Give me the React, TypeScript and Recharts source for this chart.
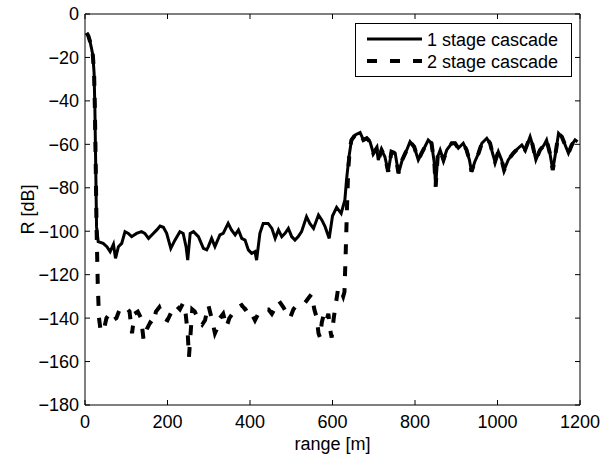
import React from "react";
import { LineChart, Line, XAxis, YAxis, Legend, Label } from "recharts";

// range [m] / R [dB] for the 1 stage cascade
const stage1X = [
  4, 8, 12, 16, 19, 22, 24, 26, 28, 32, 44, 53, 61, 69, 74, 81, 89, 97, 105, 113, 125, 137, 145, 154, 162,
  174, 182, 190, 198, 208, 218, 230, 238, 245, 249, 255, 263, 275, 287, 295, 299, 307, 315, 327, 335, 347,
  355, 364, 372, 380, 388, 396, 404, 412, 416, 424, 432, 444, 453, 461, 469, 477, 485, 493, 501, 509, 517,
  525, 537, 545, 554, 566, 574, 582, 592, 600, 610, 621, 630, 634, 640, 646, 655, 667, 675, 683, 691, 699,
  707, 711, 719, 727, 735, 743, 752, 760, 769, 780, 788, 798, 808, 816, 824, 832, 840, 847, 850, 855, 861,
  869, 877, 889, 897, 905, 917, 925, 932, 937, 945, 954, 962, 974, 982, 988, 994, 1002, 1010, 1016, 1026,
  1038, 1050, 1059, 1067, 1079, 1085, 1093, 1103, 1113, 1119, 1127, 1134, 1142, 1148, 1156, 1164, 1172,
  1180, 1188, 1194,
];
const stage1R = [
  -8.7, -10, -12.5, -16, -19, -27, -44, -70, -98, -104.8, -105.6, -107.1, -109.4, -106.0, -112.5, -107.1,
  -105.6, -100.2, -101.0, -102.5, -101.0, -100.2, -101, -103.3, -101.7, -99.4, -97.6, -98.2, -101, -107.9,
  -104.1, -100.2, -101, -107.1, -113.3, -101, -100.2, -102.5, -107.9, -108.6, -107.1, -103.3, -107.1,
  -101.7, -101.0, -96.4, -99.4, -101.7, -99.4, -103.3, -104.1, -108.6, -110.2, -109.4, -113.3, -101.0,
  -96.4, -96.4, -98.7, -103.3, -99.4, -102.5, -101.0, -98.7, -102.5, -104.1, -102.5, -100.2, -93.3, -96.4,
  -98.7, -92.5, -94.8, -97.9, -103.3, -93, -89.0, -91.8, -85.6, -76.4, -65.7, -58.0, -55.7, -54.6, -58.0,
  -57.2, -58.8, -64.1, -61.8, -67.2, -62.6, -65.7, -72.6, -63.4, -64.1, -73.3, -67.2, -62.6, -58.8, -61.1,
  -67.2, -64.1, -61.1, -58.0, -59.5, -68.8, -79.5, -65.7, -62.6, -67.2, -62.6, -59.5, -59.5, -61.8, -59.5,
  -62.6, -67.2, -72.6, -68.0, -64.1, -59.5, -57.2, -59.5, -64.1, -68.0, -63.4, -67.2, -71.8, -67.2, -64.1,
  -61.8, -60.3, -62.6, -56.5, -60.3, -67.2, -62.6, -60.3, -58.0, -64.1, -71.8, -62.6, -54.9, -56.5, -60.3,
  -64.1, -60.3, -58.0, -58.8,
];

// 2 stage cascade up to where it joins the 1 stage curve (it overlaps it beyond)
const stage2X = [
  4, 8, 12, 16, 19, 22, 24, 26, 28, 31, 34, 38, 45, 52, 60, 68, 76, 84, 92, 100, 108, 114, 120, 128, 136,
  142, 150, 158, 165, 172, 180, 190, 200, 210, 220, 230, 238, 244, 249, 252, 256, 260, 266, 276, 284, 291,
  299, 307, 315, 322, 327, 335, 343, 350, 361, 372, 380, 388, 396, 404, 412, 420, 428, 436, 445, 453, 462,
  470, 481, 490, 497, 505, 513, 521, 533, 541, 549, 556, 562, 566, 570, 574, 578, 584, 590, 594, 598, 603,
  610, 614, 620, 626, 629, 632, 635, 638, 642,
];
const stage2R = [
  -8.7, -10, -12.5, -16, -19, -27, -44, -70, -98, -125, -140, -146, -146, -140, -138, -141, -140, -136,
  -135, -135, -137, -147, -138, -137, -140, -150, -145, -142, -143, -137, -135, -140, -141, -137, -134,
  -136, -133, -138, -147, -158, -147, -136, -137, -141, -143, -141, -134, -140, -147, -144, -140, -138,
  -144, -140, -137, -135, -134, -136, -135, -138, -141, -138, -137, -136, -136, -138, -135, -132, -135,
  -138, -140, -136, -134, -134, -133, -131, -129, -136, -140, -147, -149, -142, -139, -142, -138, -145,
  -149, -140, -131, -126, -127, -130, -128, -110, -90, -72, -62,
];
const joinAt = 646;

const xTicks = [0, 200, 400, 600, 800, 1000, 1200];
const yTicks = [0, -20, -40, -60, -80, -100, -120, -140, -160, -180];
const seriesNames = ["1 stage cascade", "2 stage cascade"];

const stage1Data = stage1X.map((x, i) => ({ x, r: stage1R[i] }));
const stage2Data = stage2X
  .map((x, i) => ({ x, r: stage2R[i] }))
  .concat(stage1Data.filter((d) => d.x >= joinAt));

const FONT = "'Liberation Sans', Arial, Helvetica, sans-serif";
const fmt = (v: number) => String(v).replace("-", "\u2212");

const LegendBox = () => (
  <div
    style={{
      width: 215,
      height: 52,
      border: "1px solid #000",
      background: "#fff",
    }}
  >
    <svg width={215} height={52} style={{ display: "block" }}>
      <line x1={11} x2={66} y1={15} y2={15} stroke="#000" strokeWidth={3} />
      <text x={71} y={21.5} fontSize={18} fontFamily={FONT} fill="#000">
        {seriesNames[0]}
      </text>
      <line x1={11} x2={66} y1={37} y2={37} stroke="#000" strokeWidth={4} strokeDasharray="10 13" />
      <text x={71} y={43.5} fontSize={18} fontFamily={FONT} fill="#000">
        {seriesNames[1]}
      </text>
    </svg>
  </div>
);

export default function App() {
  const tickStyle = { fontSize: 18, fontFamily: FONT, fill: "#000" };
  return (
    <div style={{ position: "absolute", left: 0, top: 0 }}>
      <LineChart
        width={603}
        height={457}
        margin={{ top: 13, right: 22, bottom: 0, left: 0 }}
        style={{ background: "#fff" }}
      >
        <XAxis
          type="number"
          dataKey="x"
          domain={[0, 1200]}
          ticks={xTicks}
          interval={0}
          height={52}
          tickSize={-5}
          tickMargin={15}
          tick={tickStyle}
          tickFormatter={fmt}
          axisLine={{ stroke: "#000", strokeWidth: 1 }}
          tickLine={{ stroke: "#000" }}
          allowDataOverflow
        >
          <Label
            value="range [m]"
            position="insideBottom"
            offset={7}
            style={{ fontSize: 18, fontFamily: FONT, fill: "#000" }}
          />
        </XAxis>
        <XAxis
          xAxisId="top"
          orientation="top"
          type="number"
          dataKey="x"
          domain={[0, 1200]}
          ticks={xTicks}
          interval={0}
          height={1}
          tickSize={-5}
          tickMargin={0}
          tickFormatter={() => ""}
          axisLine={{ stroke: "#000", strokeWidth: 1 }}
          tickLine={{ stroke: "#000" }}
          allowDataOverflow
        />
        <YAxis
          type="number"
          dataKey="r"
          domain={[-180, 0]}
          ticks={yTicks}
          interval={0}
          width={85}
          tickSize={-5}
          tickMargin={11}
          tick={tickStyle}
          tickFormatter={fmt}
          axisLine={{ stroke: "#000", strokeWidth: 1 }}
          tickLine={{ stroke: "#000" }}
          allowDataOverflow
        >
          <Label
            value="R [dB]"
            angle={-90}
            position="insideLeft"
            offset={28}
            style={{ fontSize: 18, fontFamily: FONT, fill: "#000", textAnchor: "middle" }}
          />
        </YAxis>
        <YAxis
          yAxisId="right"
          orientation="right"
          type="number"
          dataKey="r"
          domain={[-180, 0]}
          ticks={yTicks}
          interval={0}
          width={1}
          tickSize={-5}
          tickMargin={0}
          tickFormatter={() => ""}
          axisLine={{ stroke: "#000", strokeWidth: 1 }}
          tickLine={{ stroke: "#000" }}
          allowDataOverflow
        />
        <Line
          data={stage1Data}
          dataKey="r"
          name={seriesNames[0]}
          type="linear"
          stroke="#000"
          strokeWidth={3}
          dot={false}
          isAnimationActive={false}
        />
        <Line
          data={stage2Data}
          dataKey="r"
          name={seriesNames[1]}
          xAxisId="top"
          yAxisId="right"
          type="linear"
          stroke="#000"
          strokeWidth={4}
          strokeDasharray="10 12"
          dot={false}
          isAnimationActive={false}
        />
        <Legend
          content={() => <LegendBox />}
          wrapperStyle={{ top: 23, left: 355, width: 217, height: 0, overflow: "visible" }}
        />
      </LineChart>
    </div>
  );
}
